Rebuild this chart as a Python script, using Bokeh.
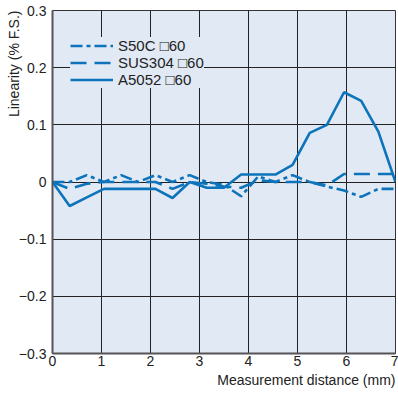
from bokeh.plotting import figure
from bokeh.models import FixedTicker, Range1d, Legend, LegendItem, Title
from bokeh.embed import file_html
from bokeh.resources import INLINE

distance = [0.0, 0.35, 0.7, 1.05, 1.4, 1.75, 2.1, 2.45, 2.8, 3.15, 3.5,
            3.85, 4.2, 4.55, 4.9, 5.25, 5.6, 5.95, 6.3, 6.65, 7.0]
s50c = [0.0, 0.0, 0.012, 0.0, 0.012, 0.0, 0.012, 0.0, 0.012, 0.0, -0.005,
        -0.025, 0.01, 0.0, 0.012, 0.0, -0.008, -0.015, -0.026, -0.012, -0.012]
sus304 = [0.0, -0.012, -0.003, 0.0, 0.0, 0.0, 0.0, -0.012, 0.0, -0.003, -0.008,
          -0.01, 0.003, 0.0, 0.0, 0.0, -0.006, 0.014, 0.014, 0.014, 0.014]
a5052 = [0.0, -0.042, -0.027, -0.012, -0.012, -0.012, -0.012, -0.028, 0.0, -0.01, -0.01,
         0.013, 0.013, 0.013, 0.03, 0.086, 0.1, 0.157, 0.142, 0.088, 0.0]
series_names = ["S50C \u25a160", "SUS304 \u25a160", "A5052 \u25a160"]
x_ticks = [0, 1, 2, 3, 4, 5, 6, 7]
y_ticks = [-0.3, -0.2, -0.1, 0, 0.1, 0.2, 0.3]
y_tick_labels = ["\u22120.3", "\u22120.2", "\u22120.1", "0", "0.1", "0.2", "0.3"]
x_title = "Measurement distance (mm)"
y_title = "Linearity (% F.S.)"

BLUE = "#0d74bb"
BG = "#e0e9f4"
FONT = "Liberation Sans"
TXT = "#222222"

p = figure(width=398, height=398, output_backend="svg", toolbar_location=None,
           x_range=Range1d(0, 7), y_range=Range1d(-0.3, 0.3),
           min_border_left=52, min_border_top=10, min_border_right=3, min_border_bottom=45)
p.background_fill_color = BG
p.border_fill_color = "white"
p.outline_line_color = "#333333"
p.outline_line_width = 1

p.xaxis.ticker = FixedTicker(ticks=x_ticks)
p.yaxis.ticker = FixedTicker(ticks=y_ticks)
p.yaxis.major_label_overrides = {t: l for t, l in zip(y_ticks, y_tick_labels)}
p.xaxis.major_label_overrides = {t: str(t) for t in x_ticks}
for ax in (p.xaxis, p.yaxis):
    ax.major_tick_line_color = None
    ax.minor_tick_line_color = None
    ax.major_tick_out = 0
    ax.major_tick_in = 0
    ax.minor_tick_out = 0
    ax.minor_tick_in = 0
    ax.axis_line_color = "#555555"
    ax.axis_line_width = 2
    ax.major_label_text_font = FONT
    ax.major_label_text_font_size = "14px"
    ax.major_label_text_color = TXT
p.yaxis.major_label_standoff = 6
p.xaxis.major_label_standoff = 2
p.xgrid.grid_line_color = "#222222"
p.ygrid.grid_line_color = "#222222"
p.xgrid.grid_line_width = 1
p.ygrid.grid_line_width = 1

r1 = p.line(distance, s50c, line_color=BLUE, line_width=2.6, line_dash="12 4 4 4")
r2 = p.line(distance, sus304, line_color=BLUE, line_width=2.6, line_dash="16 8")
r3 = p.line(distance, a5052, line_color=BLUE, line_width=2.6)

legend = Legend(items=[LegendItem(label=series_names[0], renderers=[r1]),
                       LegendItem(label=series_names[1], renderers=[r2]),
                       LegendItem(label=series_names[2], renderers=[r3])],
                location=(18, 265))
legend.background_fill_color = BG
legend.background_fill_alpha = 1
legend.border_line_color = None
legend.label_text_font = FONT
legend.label_text_font_size = "15px"
legend.label_text_color = TXT
legend.glyph_width = 43
legend.glyph_height = 15
legend.label_height = 15
legend.spacing = -1
legend.padding = 8
legend.margin = 0
legend.label_standoff = 5
p.add_layout(legend, "center")

xt = Title(text=x_title, align="right", text_font=FONT,
           text_font_size="14px", text_font_style="normal", text_color=TXT,
           standoff=3)
p.add_layout(xt, "below")
yt = Title(text=y_title, align="right", text_font=FONT,
           text_font_size="14px", text_font_style="normal", text_color=TXT,
           standoff=-12)
p.add_layout(yt, "left")

open("out.html", "w").write(file_html(p, INLINE))
